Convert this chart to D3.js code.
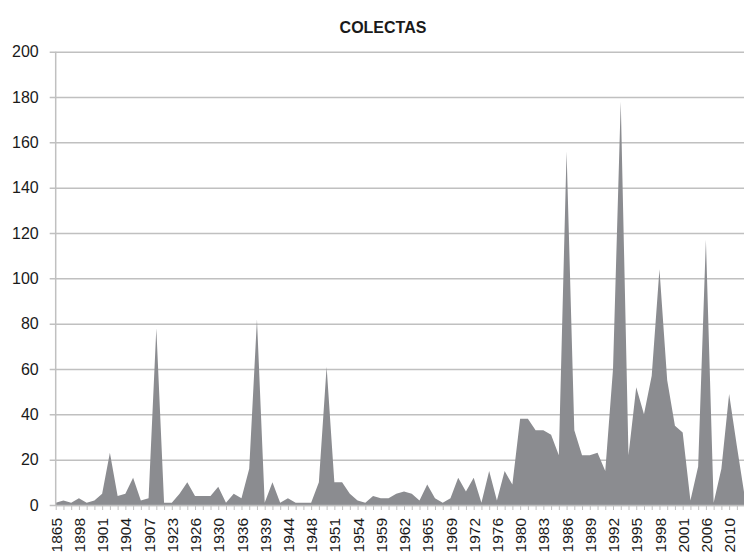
<!DOCTYPE html>
<html lang="es">
<head>
    <meta charset="UTF-8">
    <title>COLECTAS</title>
    <script src="https://d3js.org/d3.v7.min.js"></script>
    <style>
        body { margin: 0; background: #fff; }
        svg { display: block; font-family: "Liberation Sans", Arial, sans-serif; }
    </style>
</head>
<body>
    <div id="chart"></div>

    <script>
        // Years (only every third one is labelled on the axis)
        const years = [
            "1865", "1880", "1890", "1898", "1899", "1900", "1901", "1902", "1903", "1904",
            "1905", "1906", "1907", "1908", "1915", "1923", "1924", "1925", "1926", "1927",
            "1928", "1930", "1932", "1934", "1936", "1937", "1938", "1939", "1940", "1942",
            "1944", "1945", "1946", "1948", "1949", "1950", "1951", "1952", "1953", "1954",
            "1956", "1958", "1959", "1960", "1961", "1962", "1963", "1964", "1965", "1966",
            "1967", "1969", "1970", "1971", "1972", "1973", "1974", "1976", "1977", "1978",
            "1980", "1981", "1982", "1983", "1984", "1985", "1986", "1987", "1988", "1989",
            "1990", "1991", "1992", "1993", "1994", "1995", "1996", "1997", "1998", "1999",
            "2000", "2001", "2002", "2004", "2006", "2007", "2008", "2010", "2011", "2012"
        ];

        // Number of collections per year
        const colectas = [
            1, 2, 1, 3, 1, 2, 5, 23, 4, 5,
            12, 2, 3, 78, 1, 1, 5, 10, 4, 4,
            4, 8, 1, 5, 3, 16, 82, 1, 10, 1,
            3, 1, 1, 1, 10, 61, 10, 10, 5, 2,
            1, 4, 3, 3, 5, 6, 5, 2, 9, 3,
            1, 3, 12, 6, 12, 1, 15, 2, 15, 9,
            38, 38, 33, 33, 31, 22, 156, 33, 22, 22,
            23, 15, 60, 178, 22, 52, 40, 57, 104, 55,
            35, 32, 2, 17, 117, 1, 16, 49, 26, 4
        ];

        const yTicks = [0, 20, 40, 60, 80, 100, 120, 140, 160, 180, 200];

        const W = 744, H = 557;
        const plotLeft = 55.7, plotRight = 744.6, plotTop = 51.7, plotBottom = 505;

        const svg = d3.select("#chart")
            .append("svg")
            .attr("width", W)
            .attr("height", H);

        const x = d3.scalePoint()
            .domain(years)
            .range([plotLeft, plotRight])
            .padding(0);

        const y = d3.scaleLinear()
            .domain([0, 200])
            .range([plotBottom, plotTop]);

        // Gridlines + y labels
        const yAxis = svg.append("g")
            .attr("transform", `translate(${plotLeft},0)`)
            .call(d3.axisLeft(y).tickValues(yTicks).tickSize(-(W - plotLeft)).tickSizeOuter(0).tickPadding(17));
        yAxis.select(".domain").remove();
        yAxis.selectAll(".tick line")
            .attr("x1", -6)
            .attr("stroke", "#c0c0c0")
            .attr("stroke-width", 1.5);
        yAxis.selectAll(".tick text")
            .attr("fill", "#1a1a1a")
            .style("font-size", "16px");

        // Area
        const area = d3.area()
            .x((d, i) => x(years[i]))
            .y0(plotBottom)
            .y1(d => y(d));

        svg.append("path")
            .datum(colectas)
            .attr("d", area)
            .attr("fill", "#8b8c90");

        // Y axis line
        svg.append("line")
            .attr("x1", plotLeft).attr("x2", plotLeft)
            .attr("y1", plotTop).attr("y2", plotBottom)
            .attr("stroke", "#c0c0c0")
            .attr("stroke-width", 1.5);

        // X axis with a tick at every year, label every third
        const xAxis = svg.append("g")
            .attr("transform", `translate(0,${plotBottom})`)
            .call(d3.axisBottom(x).tickSize(5).tickSizeOuter(0)
                .tickFormat((d, i) => i % 3 === 0 ? d : ""));
        xAxis.select(".domain")
            .attr("stroke", "#c0c0c0")
            .attr("stroke-width", 1.5);
        xAxis.selectAll(".tick line")
            .attr("stroke", "#c0c0c0");
        xAxis.selectAll(".tick text")
            .attr("fill", "#1a1a1a")
            .style("font-size", "15.5px")
            .attr("transform", "rotate(-90)")
            .attr("x", -13)
            .attr("y", 0)
            .attr("dy", "0.36em")
            .style("text-anchor", "end");

        // Title
        svg.append("text")
            .attr("x", 383)
            .attr("y", 33)
            .attr("text-anchor", "middle")
            .attr("fill", "#1a1a1a")
            .style("font-size", "16px")
            .style("font-weight", "bold")
            .text("COLECTAS");
    </script>
</body>
</html>
